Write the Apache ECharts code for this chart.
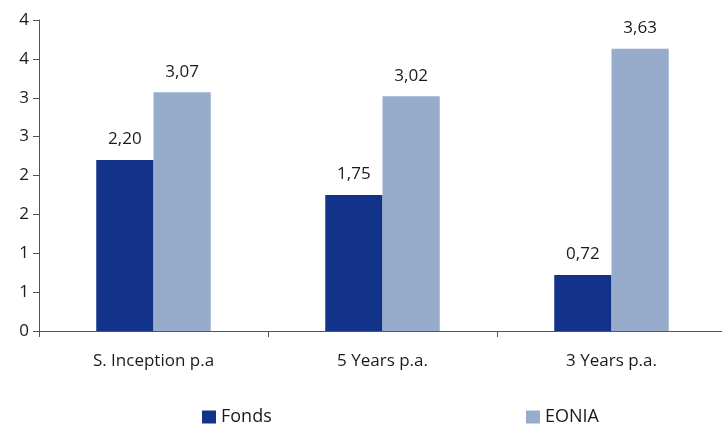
<!DOCTYPE html>
<html><head><meta charset="utf-8">
<script src="https://cdn.jsdelivr.net/npm/echarts@6/dist/echarts.min.js"></script>
<style>html,body{margin:0;padding:0;background:#fff}#c{width:722px;height:425px}</style>
</head><body><div id="c"></div>
<script>
const categories = ['S. Inception p.a', '5 Years p.a.', '3 Years p.a.'];
const fonds = [2.20, 1.75, 0.72];
const eonia = [3.07, 3.02, 3.63];
const seriesNames = ['Fonds', 'EONIA'];
const FONT = '"Open Sans", sans-serif';
const chart = echarts.init(document.getElementById('c'));
const lbl = {show:true, position:'top', distance:12, fontFamily:FONT, fontSize:17, color:'#1a1a1a',
  formatter: p => p.value.toFixed(2).replace('.', ',')};
chart.setOption({
  animation:false,
  grid:{left:39, width:687, top:20, bottom:94, outerBoundsMode:'none', containLabel:false},
  legend:[
    {data:[seriesNames[0]], left:197, top:403, itemWidth:14, itemHeight:13, icon:'rect', itemGap:5,
     textStyle:{fontFamily:FONT, fontSize:18, color:'#1a1a1a'}},
    {data:[seriesNames[1]], left:521, top:403, itemWidth:14, itemHeight:13, icon:'rect',
     textStyle:{fontFamily:FONT, fontSize:18, color:'#1a1a1a'}}
  ],
  xAxis:{type:'category', data:categories,
    axisLine:{lineStyle:{color:'#555', width:1}},
    axisTick:{show:true, length:6, lineStyle:{color:'#555'}},
    axisLabel:{fontFamily:FONT, fontSize:17, color:'#1a1a1a', margin:22}},
  yAxis:{type:'value', min:0, max:4, interval:0.5,
    axisLine:{show:true, lineStyle:{color:'#555'}},
    axisTick:{show:true, inside:false, length:6, lineStyle:{color:'#555'}},
    splitLine:{show:false},
    axisLabel:{fontFamily:FONT, fontSize:17, color:'#1a1a1a', margin:10,
      formatter: v => String(Math.round(v))}},
  series:[
    {name:seriesNames[0], type:'bar', data:fonds, barWidth:'25%', barGap:'0%',
     itemStyle:{color:'#13338a'}, label:lbl},
    {name:seriesNames[1], type:'bar', data:eonia, barWidth:'25%', barGap:'0%',
     itemStyle:{color:'#97acca'}, label:lbl}
  ]
});
</script></body></html>
